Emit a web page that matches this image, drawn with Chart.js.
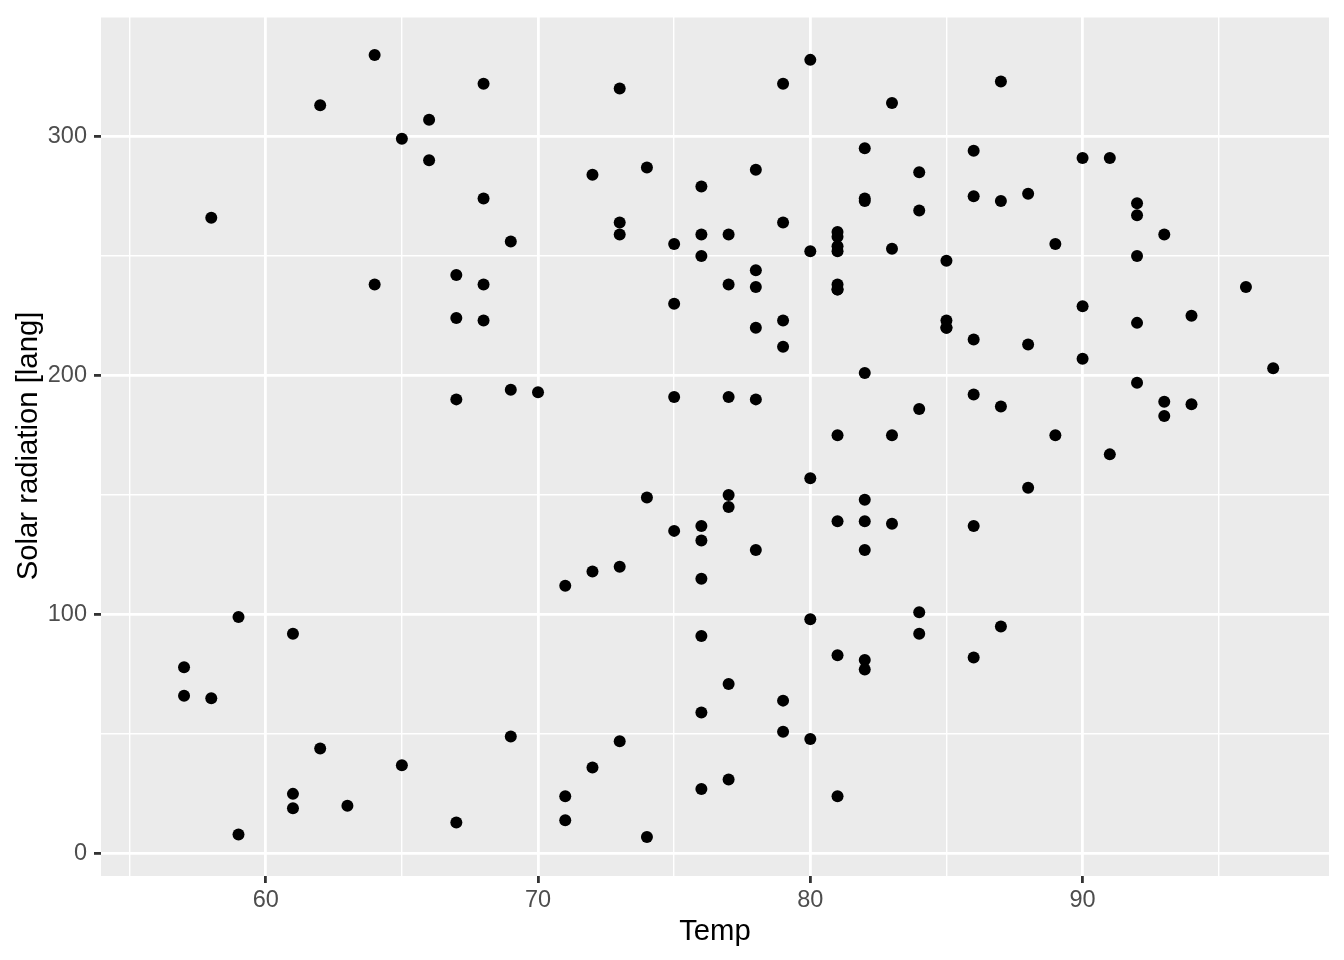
<!DOCTYPE html>
<html>
<head>
<meta charset="utf-8">
<script src="https://cdn.jsdelivr.net/npm/chart.js@4"></script>
<style>
  html, body { margin: 0; padding: 0; background: #ffffff; }
  #wrap { width: 1344px; height: 960px; }
</style>
</head>
<body>
<div id="wrap"><canvas id="scatter"></canvas></div>
<script>
// airquality: Temp vs Solar.R (null = missing)
const temp = [
  67,72,74,62,56,66,65,59,61,69, 74,69,66,68,58,64,66,57,68,62,
  59,73,61,61,57,58,57,67,81,79, 76,78,74,67,84,85,79,82,87,90,
  87,93,92,82,80,79,77,72,65,73, 76,77,76,76,76,75,78,73,80,77,
  83,84,85,81,84,83,83,88,92,92, 89,82,73,81,91,80,81,82,84,87,
  85,74,81,82,86,85,82,86,88,86, 83,81,81,81,82,86,85,87,89,90,
  90,92,86,86,82,80,79,77,79,76, 78,78,77,72,75,79,81,86,88,97,
  94,96,94,91,92,93,93,87,84,80, 78,75,73,81,76,77,71,71,78,67,
  76,68,82,64,71,81,69,63,70,77, 75,76,68
];
const solar = [
  190,118,149,313,null,null,299,99,19,194, null,256,290,274,65,334,307,78,322,44,
  8,320,25,92,66,266,null,13,252,223, 279,286,287,242,186,220,264,127,273,291,
  323,259,250,148,332,322,191,284,37,120, 137,150,59,91,250,135,127,47,98,31,
  138,269,248,236,101,175,314,276,267,272, 175,139,264,175,291,48,260,274,285,187,
  220,7,258,295,294,223,81,82,213,275, 253,254,83,24,77,null,null,null,255,229,
  207,222,137,192,273,157,64,71,51,115, 244,190,259,36,255,212,238,215,153,203,
  225,237,188,167,197,183,189,95,92,252, 220,230,259,236,259,238,24,112,237,224,
  27,238,201,238,14,139,49,20,193,145, 191,131,223
];

const xBreaks = [55, 60, 65, 70, 75, 80, 85, 90, 95];
const xMajor = [60, 70, 80, 90];
const yBreaks = [0, 50, 100, 150, 200, 250, 300, 350];
const yMajor = [0, 100, 200, 300];

const points = [];
temp.forEach((t, i) => {
  if (solar[i] !== null) points.push({ x: t, y: solar[i] });
});

const panelBg = {
  id: 'panelBg',
  beforeDraw(chart) {
    const { ctx, chartArea: a } = chart;
    ctx.save();
    ctx.fillStyle = '#EBEBEB';
    ctx.fillRect(a.left, a.top, a.right - a.left, a.bottom - a.top);
    ctx.restore();
  }
};

function axis(breaks, major, pad, opts) {
  const isMajor = v => major.includes(v);
  return Object.assign({
    type: 'linear',
    afterBuildTicks: s => { s.ticks = breaks.map(v => ({ value: v })); },
    grid: {
      color: '#ffffff',
      lineWidth: c => (c.tick && isMajor(c.tick.value)) ? 2.8 : 1.4,
      tickColor: c => (c.tick && isMajor(c.tick.value)) ? '#333333' : 'rgba(0,0,0,0)',
      tickWidth: 2.8,
      tickLength: 7,
      drawTicks: true
    },
    border: { display: false },
    ticks: {
      autoSkip: false,
      maxRotation: 0,
      padding: pad,
      color: '#4D4D4D',
      font: { family: 'Liberation Sans, Arial, sans-serif', size: 23.5 },
      callback: v => isMajor(v) ? String(v) : ''
    }
  }, opts);
}

const titleFont = { family: 'Liberation Sans, Arial, sans-serif', size: 29.3 };

new Chart(document.getElementById('scatter'), {
  type: 'scatter',
  data: {
    datasets: [{
      data: points,
      backgroundColor: '#000000',
      borderWidth: 0,
      pointRadius: 6,
      pointHoverRadius: 6
    }]
  },
  options: {
    responsive: true,
    maintainAspectRatio: false,
    animation: false,
    events: [],
    layout: { padding: { top: 16, right: 15, left: 0, bottom: 0 } },
    plugins: { legend: { display: false }, tooltip: { enabled: false } },
    scales: {
      x: axis(xBreaks, xMajor, 3, {
        min: 53.95, max: 99.05,
        afterFit: s => { s.height = 84; s.paddingLeft = 0; s.paddingRight = 0; },
        title: { display: true, text: 'Temp', color: '#000000', font: titleFont, padding: { top: 0, bottom: 11 } }
      }),
      y: axis(yBreaks, yMajor, 7, {
        min: -9.35, max: 350.35,
        afterFit: s => { s.width = 101; s.paddingTop = 0; s.paddingBottom = 0; },
        title: { display: true, text: 'Solar radiation [lang]', color: '#000000', font: titleFont, padding: { top: 11, bottom: 0 } }
      })
    }
  },
  plugins: [panelBg]
});
</script>
</body>
</html>
